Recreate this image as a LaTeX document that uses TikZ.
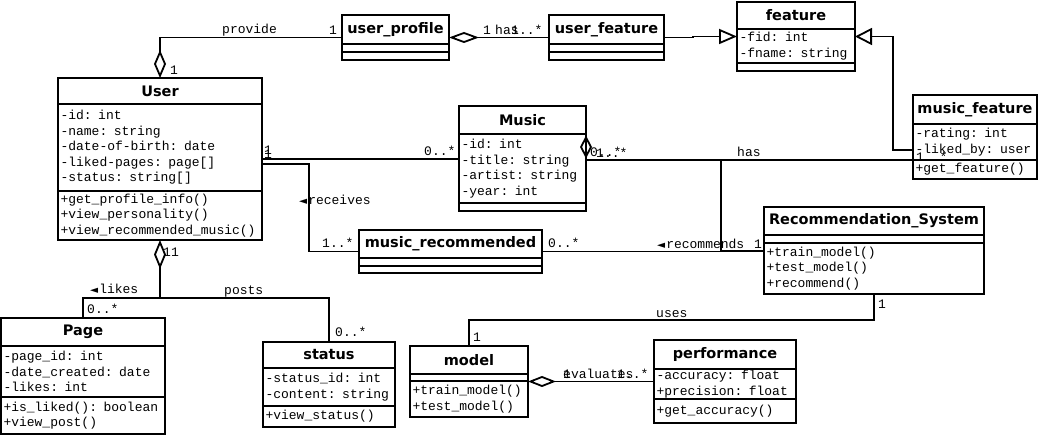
\documentclass[tikz,border=0pt]{standalone}
\usepackage{fontspec}
\setmonofont{Liberation Mono}
\newfontfamily\ktfont{DejaVu Sans}
\newfontfamily\symfont{DejaVu Sans}
\usetikzlibrary{arrows.meta,fit}
\tikzset{
  ktitle/.style={draw,line width=1.8pt,anchor=north west,inner sep=0pt,outer sep=0pt,
    font=\fontsize{14.5}{17}\selectfont\ktfont\bfseries},
  kpart/.style={draw,line width=1.8pt,anchor=north west,inner xsep=2.5pt,inner ysep=0pt,outer sep=0pt,
    align=left,font=\fontsize{13}{15.5}\selectfont\ttfamily},
  kframe/.style={inner sep=0pt,outer sep=0pt},
  link/.style={line width=1.8pt},
  thinlink/.style={line width=1.1pt},
  lbl/.style={anchor=west,inner sep=0pt,font=\fontsize{13}{15.5}\selectfont\ttfamily},
  % open triangle end
  gen/.style={-{Triangle[open,length=18pt,width=15pt]}},
}
\newcommand{\LeftTri}{{\symfont\fontsize{10.5}{10}\selectfont ◄}\hspace{1pt}}
% name, top left, width, heights of the three parts, title, attributes, methods
\newcommand{\Klass}[9]{%
  \pgfmathsetmacro\ktw{#3-5}%
  \node[ktitle,minimum width=#3pt,minimum height=#4pt] (#1-t) at #2 {#7};
  \node[kpart,minimum width=#3pt,text width=\ktw pt,minimum height=#5pt] (#1-a) at (#1-t.south west) {#8};
  \node[kpart,minimum width=#3pt,text width=\ktw pt,minimum height=#6pt] (#1-m) at (#1-a.south west) {#9};
  \node[kframe,fit=(#1-t)(#1-m)] (#1) {};
}
\begin{document}
\begin{tikzpicture}[x=1pt,y=-1pt]
  \useasboundingbox (0,0) rectangle (1039,435);
  % classes
  \Klass{uprof}{(342,15)}{107}{29}{8}{8}{user\_profile}{}{}
  \Klass{ufeat}{(549,15)}{115}{29}{8}{8}{user\_feature}{}{}
  \Klass{feat}{(737,2)}{118}{27}{34}{8}{feature}{-fid: int\\-fname: string}{}
  \Klass{user}{(58,78)}{204}{26}{87}{49}{User}%
    {-id: int\\-name: string\\-date-of-birth: date\\-liked-pages: page[]\\-status: string[]}%
    {+get\_profile\_info()\\+view\_personality()\\+view\_recommended\_music()}
  \Klass{music}{(459,106)}{127}{28}{69}{8}{Music}%
    {-id: int\\-title: string\\-artist: string\\-year: int}{}
  \Klass{mfeat}{(913,95)}{124}{29}{36}{19}{music\_feature}%
    {-rating: int\\-liked\_by: user}{+get\_feature()}
  \Klass{recsys}{(764,207)}{220}{28}{8}{51}{Recommendation\_System}{}%
    {+train\_model()\\+test\_model()\\+recommend()}
  \Klass{mrec}{(359,230)}{183}{28}{8}{7}{music\_recommended}{}{}
  \Klass{page}{(1,318)}{164}{28}{51}{37}{Page}%
    {-page\_id: int\\-date\_created: date\\-likes: int}{+is\_liked(): boolean\\+view\_post()}
  \Klass{status}{(263,342)}{132}{26}{38}{21}{status}%
    {-status\_id: int\\-content: string}{+view\_status()}
  \Klass{model}{(410,346)}{118}{28}{7}{36}{model}{}{+train\_model()\\+test\_model()}
  \Klass{perf}{(654,340)}{142}{29}{30}{24}{performance}%
    {-accuracy: float\\+precision: float}{+get\_accuracy()}
  % connectors
  \draw[link,{Diamond[open,length=28pt,width=12pt]}-] (user.north) |- (uprof.west);
  \draw[link,{Diamond[open,length=30pt,width=11pt]}-] (uprof.east) -- (ufeat.west);
  \draw[link,gen] (ufeat.east) -- ++(29,0) |- (feat.west);
  \draw[link,{Triangle[open,length=17pt,width=17pt]}-] (feat.east) -- ++(38,0) |- ([yshift=-13pt]mfeat.west);
  \draw[link] (user.east) -- (user.east -| music.west);
  \draw[link] ([yshift=-5pt]user.east) -- ++(47,0) |- (mrec.west);
  \draw[link] (mrec.east) -- (mrec.east -| recsys.west);
  \draw[link] ([yshift=-1pt]music.east) -- ++(135,0) |- (recsys.west);
  \draw[link,{Diamond[open,length=23pt,width=12pt]}-] ([yshift=23pt]music.east) |- ([yshift=-23pt]mfeat.west);
  \draw[link,{Diamond[open,length=29pt,width=12pt]}-] (user.south) -- ++(0,58) -| (page.north);
  \draw[thinlink] ([yshift=-58pt]user.south) -| (status.north);
  \draw[link] (recsys.south) -- ++(0,26) -| (model.north);
  \draw[link,{Diamond[open,length=28pt,width=11pt]}-] (model.east) -- (perf.west);
  % labels
  \node[lbl] (lprov) at (222,30) {provide};
  \node[lbl] (lprova) at (329,30) {1};
  \node[lbl] (lprovb) at (170,70) {1};
  \node[lbl] (lhasa) at (483,30) {1};
  \node[lbl] (lhas) at (495,30) {has};
  \node[lbl] (lhasb) at (511,30) {1..*};
  \node[lbl] (lmusa) at (264,150) {1};
  \node[lbl] (lmusb) at (264,154) {1};
  \node[lbl] (lmusc) at (424,151) {0..*};
  \node[lbl] (lrecv) at (299,200) {\LeftTri receives};
  \node[lbl] (lrecva) at (322,243) {1..*};
  \node[lbl] (lmreca) at (548,243) {0..*};
  \node[lbl] (lrecm) at (657,244) {\LeftTri recommends};
  \node[lbl] (lrecma) at (754,244) {1};
  \node[lbl] (lmfa) at (590,152) {0..*};
  \node[lbl] (lmfb) at (596,153) {1..*};
  \node[lbl] (lmfhas) at (737,152) {has};
  \node[lbl] (lmfc) at (916,157) {1..*};
  \node[lbl] (lpgb) at (163,252) {11};
  \node[lbl] (llikes) at (90,289) {\LeftTri likes};
  \node[lbl] (llikesa) at (87,309) {0..*};
  \node[lbl] (lposts) at (224,292) {posts};
  \node[lbl] (lpostsa) at (335,332) {0..*};
  \node[lbl] (luses) at (656,314) {uses};
  \node[lbl] (lusesa) at (878,304) {1};
  \node[lbl] (lusesb) at (473,337) {1};
  \node[lbl] (leva) at (563,374) {1};
  \node[lbl] (lev) at (563,374) {evaluates};
  \node[lbl] (levb) at (617,374) {1..*};
\end{tikzpicture}
\end{document}
